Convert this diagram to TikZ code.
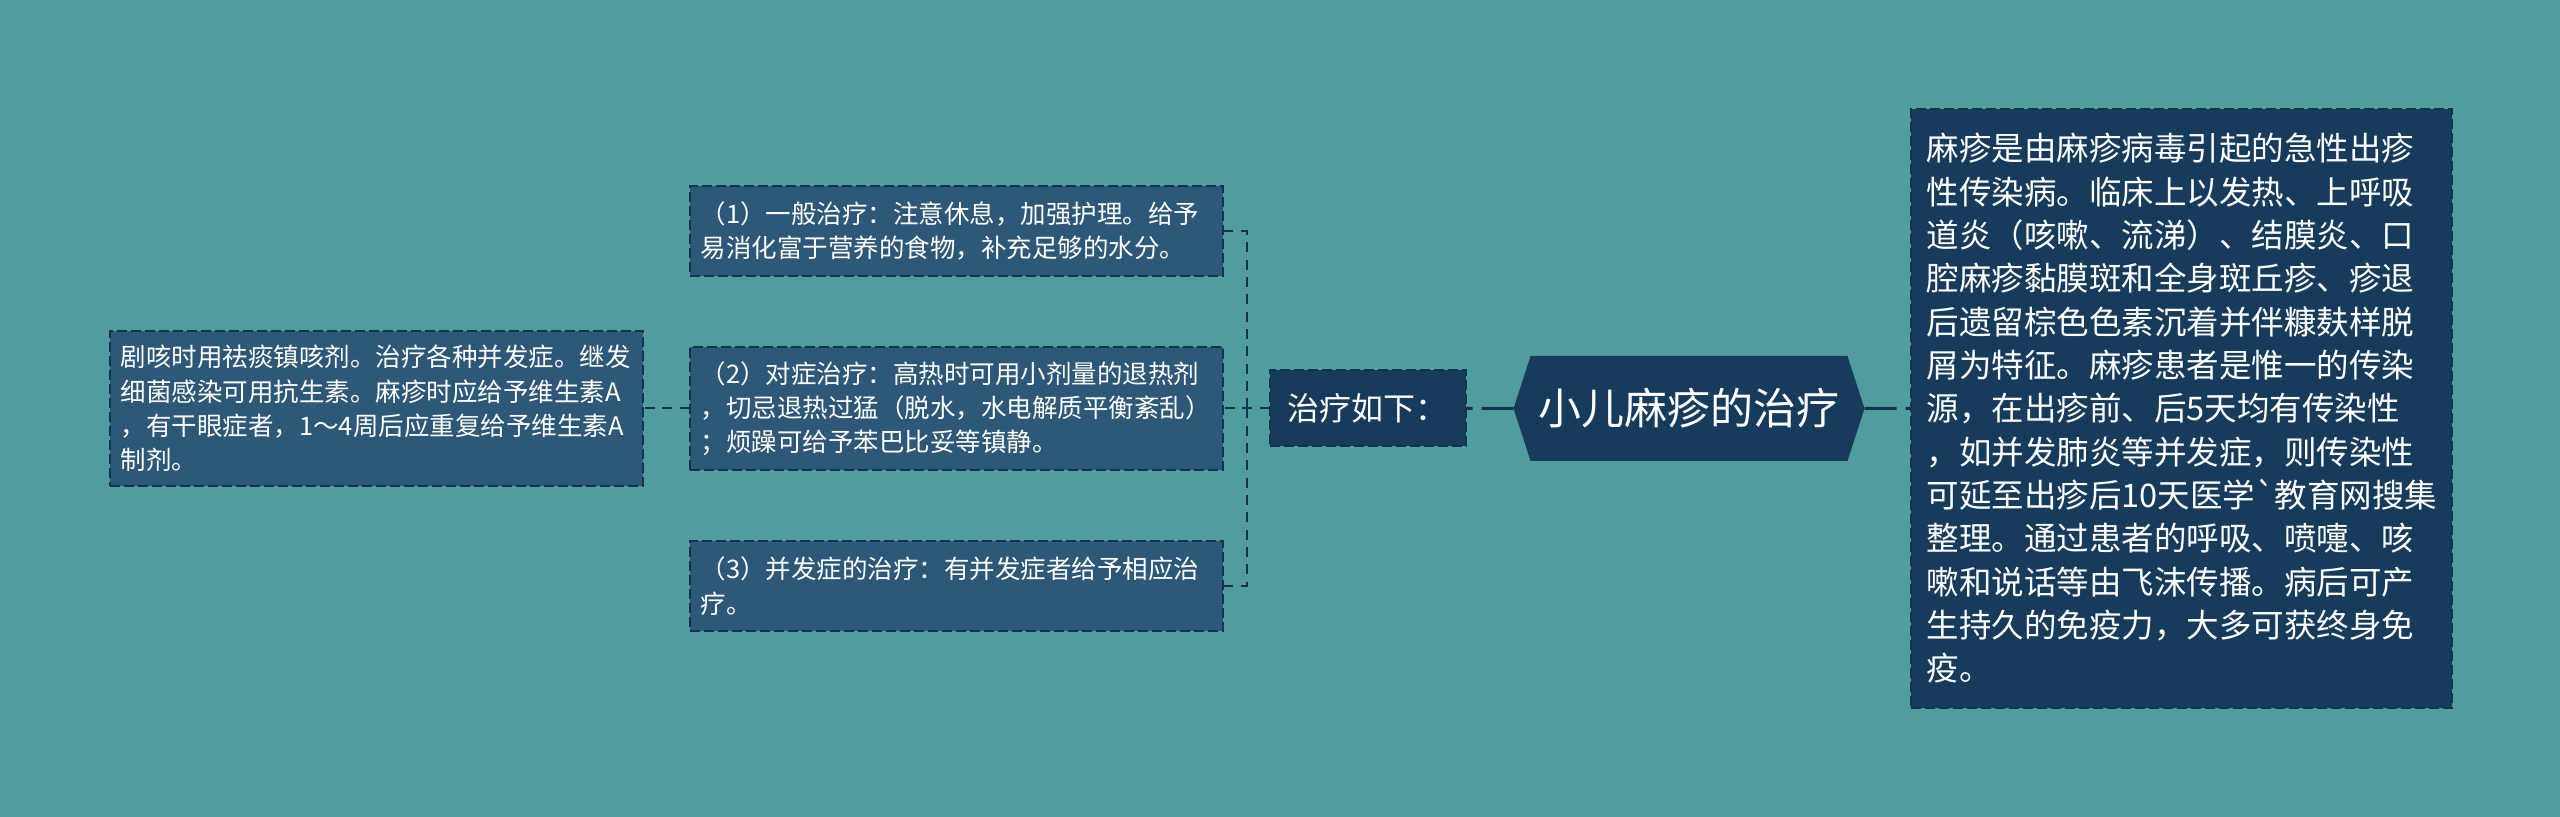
\documentclass[tikz,border=0pt]{standalone}
\usepackage{fontspec}
\newfontfamily\cjk{Noto Sans CJK SC}
\usepackage{tikz}
\usetikzlibrary{positioning}
\usetikzlibrary{shapes}
\definecolor{bgteal}{HTML}{4F9E9D}
\definecolor{navy}{HTML}{173C5B}
\definecolor{leafblue}{HTML}{2E5877}
\definecolor{edgeblue}{HTML}{12344F}
\tikzset{
    mindmap/.style={node distance=14.1pt, text=white, every node/.style={outer sep=0pt}},
    topic/.style={signal, signal to=east and west, signal pointer angle=144,
                     fill=navy, minimum width=105.3pt, minimum height=31.5pt,
                     inner sep=0pt, font=\cjk\fontsize{12.9}{15}\selectfont},
    desc/.style={rectangle, draw=edgeblue, fill=navy, line width=0.6pt,
                     dash pattern=on 3pt off 1.2pt, text width=152.7pt, inner xsep=4.8pt,
                     minimum height=179.7pt, align=left,
                     font=\cjk\fontsize{9.75}{13}\selectfont},
    sub/.style={rectangle, draw=edgeblue, fill=navy, line width=0.6pt,
                     dash pattern=on 3pt off 1.2pt, minimum width=58.8pt,
                     minimum height=22.8pt, inner sep=0pt,
                     font=\cjk\fontsize{9.6}{12}\selectfont},
    leaf/.style={rectangle, draw=edgeblue, fill=leafblue, line width=0.6pt,
                     dash pattern=on 3pt off 1.2pt, text width=153.1pt, inner xsep=3.4pt,
                     align=left, font=\cjk\fontsize{7.65}{10.3}\selectfont},
    rootlink/.style={draw=edgeblue, line width=0.9pt, dash pattern=on 9.6pt off 2.7pt},
    link/.style={draw=edgeblue, line width=0.6pt, dash pattern=on 3pt off 2.2pt},
    }

\begin{document}
\begin{tikzpicture}[mindmap]
            \useasboundingbox[fill=bgteal] (0,-122.55pt) rectangle (768pt,122.55pt);

            \node[topic] (root) at (506.7pt,0) {小儿麻疹的治疗};
            \node[desc] (desc) [right=13.8pt of root] {麻疹是由麻疹病毒引起的急性出疹\\性传染病。临床上以发热、上呼吸\\道炎（咳嗽、流涕）、结膜炎、口\\腔麻疹黏膜斑和全身斑丘疹、疹退\\后遗留棕色色素沉着并伴糠麸样脱\\屑为特征。麻疹患者是惟一的传染\\源，在出疹前、后5天均有传染性\\，如并发肺炎等并发症，则传染性\\可延至出疹后10天医学\symbol{96}教育网搜集\\整理。通过患者的呼吸、喷嚏、咳\\嗽和说话等由飞沫传播。病后可产\\生持久的免疫力，大多可获终身免\\疫。};
            \node[sub] (mid) [left=14.4pt of root] {治疗如下：};

            \node[leaf] (t2) [left=of mid, minimum height=36.9pt] {（2）对症治疗：高热时可用小剂量的退热剂\\，切忌退热过猛（脱水，水电解质平衡紊乱）\\；烦躁可给予苯巴比妥等镇静。};
            \node[leaf] (t1) [above=21.3pt of t2, minimum height=27pt] {（1）一般治疗：注意休息，加强护理。给予\\易消化富于营养的食物，补充足够的水分。};
            \node[leaf] (t3) [below=21.3pt of t2, minimum height=27pt] {（3）并发症的治疗：有并发症者给予相应治\\疗。};
            \node[leaf] (far) [left=of t2, minimum height=46.5pt] {剧咳时用祛痰镇咳剂。治疗各种并发症。继发\\细菌感染可用抗生素。麻疹时应给予维生素A\\，有干眼症者，1～4周后应重复给予维生素A\\制剂。};

            \coordinate (fork) at ([xshift=-6.9pt]mid.west);

            \path[rootlink] (root) edge (desc);
            \path[rootlink] (root) edge (mid);

            \path[link] (mid) edge (t2);
            \draw[link] (fork) |- (t1.east);
            \draw[link] (fork) |- (t3.east);
            \path[link] (t2) edge (far);
        \end{tikzpicture}
\end{document}
